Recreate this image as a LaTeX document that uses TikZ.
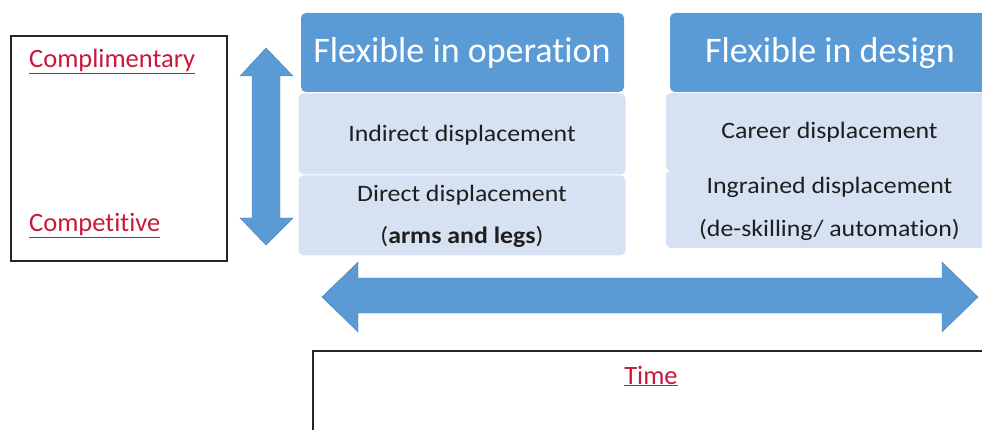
\documentclass[tikz,border=0pt]{standalone}
\usepackage{fontspec}
\setmainfont{Carlito}[Ligatures=NoCommon]
\newfontfamily\cellfont{Carlito}[FakeStretch=1.1, Ligatures=NoCommon]
\usepackage{xcolor}
\usetikzlibrary{positioning,calc}

\definecolor{hdrblue}{RGB}{91,155,213}
\definecolor{paleblue}{RGB}{214,226,241}
\definecolor{linkred}{RGB}{200,25,60}
\definecolor{darktext}{RGB}{30,30,30}

\tikzset{
  header/.style={fill=hdrblue, rounded corners=5pt, minimum width=323pt, minimum height=79pt, inner sep=0pt},
  hdrtext/.style={text=white, font=\fontsize{36}{40}\selectfont, inner sep=0pt, anchor=base},
  cell/.style={fill=paleblue, rounded corners=5pt, minimum width=327pt, inner sep=0pt},
  celltext/.style={text=darktext, font=\cellfont\fontsize{23.5}{28}\selectfont, inner sep=0pt, anchor=base},
  frame/.style={draw=black!85, line width=1.2pt, fill=white},
  tag/.style={text=linkred, font=\fontsize{26.5}{30}\selectfont, inner sep=0pt, anchor=base west},
  blockarrow/.style={fill=hdrblue, draw=hdrblue!85!black, line width=0.4pt}
}
\newcommand{\ul}[1]{\underline{#1}}

\begin{document}
\begin{tikzpicture}[x=1pt,y=-1pt]
  \useasboundingbox (0,0) rectangle (982,430);
  \clip (0,0) rectangle (982,430);

  % left frame
  \draw[frame] (11,36) rectangle (227,261);
  \node[tag] (compl) at (29,68) {\ul{Complimentary}};
  \node[tag] (compt) at (29,232) {\ul{Competitive}};

  % vertical arrow
  \draw[blockarrow] (266,48) -- (293,76) -- (280,76) -- (280,218) -- (293,218)
    -- (266,245) -- (240,218) -- (252,218) -- (252,76) -- (240,76) -- cycle;

  % first column
  \node[cell, minimum height=81pt] (indir) at (462,134) {};
  \node[cell, minimum height=80pt] (direct) at (462,215.5) {};
  \node[header] (oper) at (462.5,52.5) {};
  \node[hdrtext] (opertxt) at (462,63) {Flexible in operation};
  \node[celltext] (indirtxt) at (462,142) {Indirect displacement};
  \node[celltext] (directtxt) at (462,202) {Direct displacement};
  \node[celltext] (armstxt) at (462,244) {(\textbf{arms and legs})};

  % second column
  \node[cell, minimum height=78pt] (career) at (829.5,132) {};
  \node[cell, minimum height=78pt] (ingr) at (829.5,209) {};
  \node[header] (design) at (831.5,52.5) {};
  \node[hdrtext] (designtxt) at (830,63) {Flexible in design};
  \node[celltext] (careertxt) at (829.5,139) {Career displacement};
  \node[celltext] (ingrtxt) at (829.5,194) {Ingrained displacement};
  \node[celltext] (autotxt) at (829.5,237) {(de-skilling/ automation)};

  % horizontal arrow
  \draw[blockarrow] (322,297) -- (358,262) -- (358,278) -- (942,278) -- (942,262)
    -- (978,297) -- (942,332) -- (942,313) -- (358,313) -- (358,332) -- cycle;

  % bottom frame
  \draw[frame] (313,351) rectangle (989,440);
  \node[tag, anchor=base] (time) at (651,384) {\ul{Time}};
\end{tikzpicture}
\end{document}
